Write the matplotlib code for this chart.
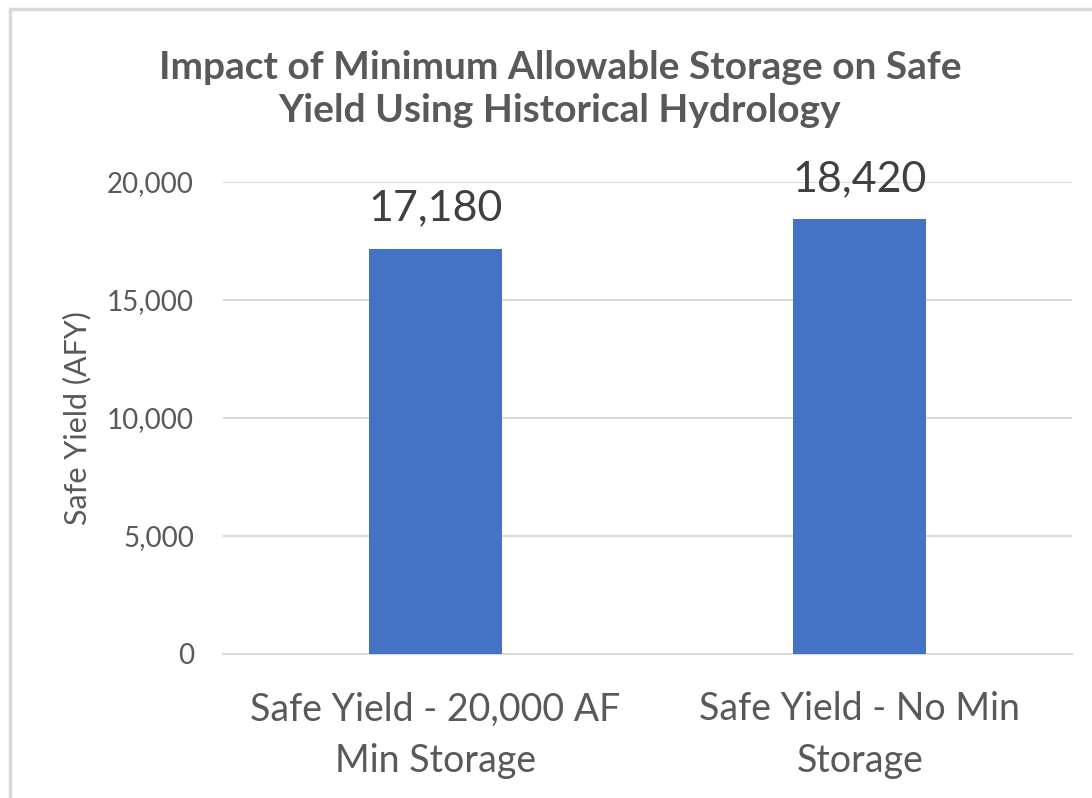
import matplotlib
matplotlib.use("Agg")
from matplotlib import pyplot as plt
from matplotlib.patches import Rectangle

categories = ["Safe Yield - 20,000 AF\nMin Storage", "Safe Yield - No Min\nStorage"]
safe_yield = [17180, 18420]
yticks = [0, 5000, 10000, 15000, 20000]

text_gray = "#595959"
plt.rcParams['font.family'] = ['Lato', 'DejaVu Sans']

fig = plt.figure(figsize=(10.92, 7.98), dpi=100)
# chart frame like Excel
fig.patches.append(Rectangle((10 / 1092, -0.1), 1.2, 1.1 - 9 / 798,
                             transform=fig.transFigure, fill=False,
                             edgecolor="#d9d9d9", linewidth=2.5))

ax = fig.add_axes([223 / 1092, 1 - 654 / 798, 849 / 1092, 472 / 798])
x = range(len(categories))
bars = ax.bar(x, safe_yield, width=0.313, color="#4472C4", zorder=3)

for b, v in zip(bars, safe_yield):
    ax.text(b.get_x() + b.get_width() / 2, v + 900, f"{v:,}",
            ha="center", va="bottom", fontsize=31, color="#404040")

ax.set_xlim(-0.5, 1.5)
ax.set_ylim(0, 20000)
ax.set_yticks(yticks)
ax.set_yticklabels([f"{t:,}" for t in yticks])
ax.set_xticks(list(x))
ax.set_xticklabels(categories, fontsize=27, color=text_gray, linespacing=1.55)
ax.tick_params(axis="y", labelsize=20, labelcolor=text_gray, length=0, pad=21)
ax.tick_params(axis="x", length=0, pad=27)
ax.grid(axis="y", color="#d9d9d9", linewidth=1.5, zorder=0)
for s in ["top", "right", "left"]:
    ax.spines[s].set_visible(False)
ax.spines["bottom"].set_color("#d9d9d9")
ax.spines["bottom"].set_linewidth(1.5)

ax.set_ylabel("Safe Yield (AFY)", fontsize=22, color=text_gray, labelpad=11)

fig.text(560 / 1092, 1 - 89 / 798, "Impact of Minimum Allowable Storage on Safe\nYield Using Historical Hydrology",
         ha="center", va="center", fontsize=28, fontweight="bold", color=text_gray,
         linespacing=1.3)

fig.savefig("out.png", dpi=100)
